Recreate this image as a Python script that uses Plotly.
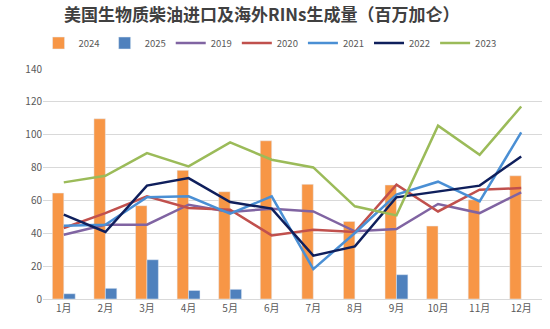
import plotly.graph_objects as go

months = ["1月", "2月", "3月", "4月", "5月", "6月", "7月", "8月", "9月", "10月", "11月", "12月"]

# Monthly bar series (million gallons)
v2024 = [64.5, 109.7, 56.8, 78.3, 65.3, 96.3, 69.8, 47.2, 69.4, 44.4, 60.4, 75.0]
v2025 = [3.2, 6.5, 23.9, 5.2, 5.9, None, None, None, 14.8, None, None, None]

# Monthly line series (million gallons)
v2019 = [39.1, 45.2, 45.2, 57.4, 52.9, 55.0, 53.3, 41.2, 42.6, 57.8, 52.3, 64.9]
v2020 = [43.2, 52.3, 62.5, 55.4, 54.3, 38.7, 42.2, 40.8, 69.6, 53.3, 66.5, 67.5]
v2021 = [44.6, 45.2, 61.9, 62.5, 51.9, 62.5, 18.2, 40.2, 63.5, 71.4, 59.4, 101.4]
v2022 = [51.3, 40.8, 69.0, 73.6, 59.0, 55.0, 26.4, 32.0, 61.9, 65.5, 69.0, 86.8]
v2023 = [71.0, 75.0, 88.8, 80.7, 95.3, 84.8, 80.1, 56.4, 50.9, 105.5, 87.8, 117.2]

y_ticks = [0, 20, 40, 60, 80, 100, 120, 140]

fig = go.Figure()
fig.add_trace(go.Bar(name="2024", x=months, y=v2024, marker_color="#F79646"))
fig.add_trace(go.Bar(name="2025", x=months, y=v2025, marker_color="#4F81BD"))

lines = [
    ("2019", v2019, "#8064A2"),
    ("2020", v2020, "#C0504D"),
    ("2021", v2021, "#4A8FD4"),
    ("2022", v2022, "#0F1F5C"),
    ("2023", v2023, "#9BBB59"),
]
for name, vals, color in lines:
    fig.add_trace(go.Scatter(name=name, x=months, y=vals, mode="lines",
                             line=dict(color=color, width=2.5)))

fig.update_layout(
    width=550, height=329,
    margin=dict(l=43, r=8, t=69, b=30),
    paper_bgcolor="white", plot_bgcolor="white",
    font=dict(family="Noto Sans CJK SC, sans-serif", color="#595959", size=10),
    title=dict(text="<b>美国生物质柴油进口及海外RINs生成量（百万加仑）</b>",
               x=0.476, xanchor="center", y=0.955, yanchor="middle",
               font=dict(size=17, color="#404040")),
    legend=dict(orientation="h", x=0.455, xanchor="center", y=1.113, yanchor="middle",
                font=dict(size=9.5, color="#595959"), itemwidth=30,
                traceorder="normal", bgcolor="rgba(0,0,0,0)"),
    barmode="group", bargap=0.45, bargroupgap=0.0,
    xaxis=dict(showgrid=False, showline=True, linecolor="#D9D9D9", linewidth=1,
               ticks="", tickfont=dict(size=10, color="#595959")),
    yaxis=dict(range=[0, 140], tickvals=y_ticks, showgrid=True, gridcolor="#D9D9D9",
               gridwidth=1, zeroline=False, showline=False, ticks="",
               tickfont=dict(size=10, color="#595959")),
)

fig.write_html("out.html")
